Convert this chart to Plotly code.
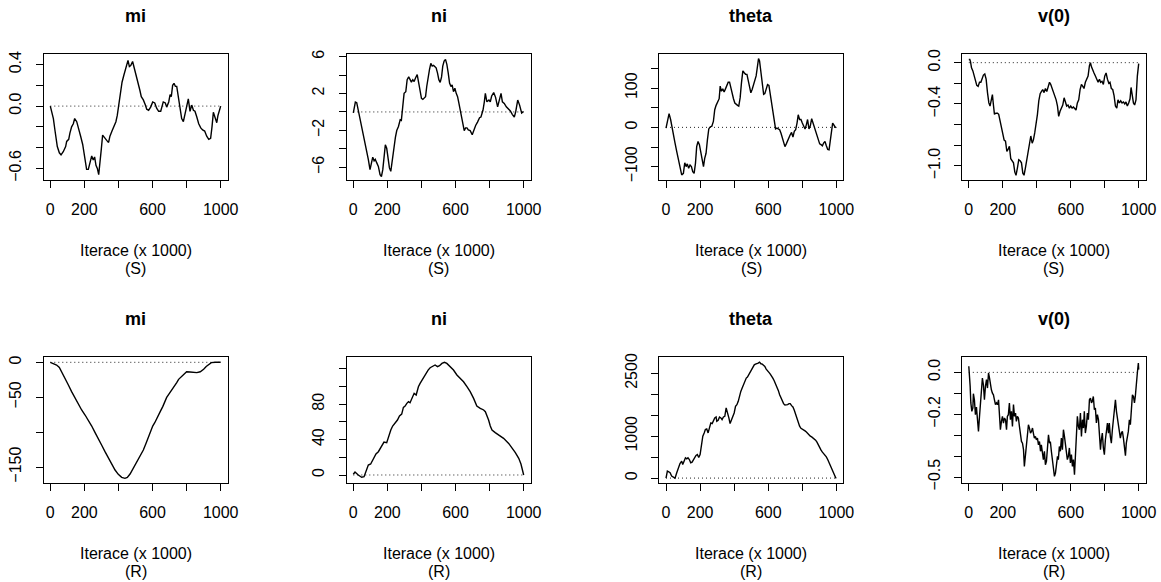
import plotly.graph_objects as go

# ---------------- data ----------------
titles = ["mi", "ni", "theta", "v(0)", "mi", "ni", "theta", "v(0)"]
xlabel = "Iterace (x 1000)"
row_tags = ["(S)", "(R)"]

x_ticks = [0, 200, 400, 600, 800, 1000]
x_ticktext = ["0", "200", "", "600", "", "1000"]
ref_x = [0, 1000]
ref_y = [0, 0]

s_mi_x = [0,18,27,41,53,63,76,90,96,108,115,125,135,143,155,166,178,190,198,205,213,223,233,243,252,260,268,276,284,292,299,307,319,331,342,350,362,374,385,393,401,413,421,432,440,448,456,464,472,483,491,503,511,518,526,534,546,558,566,577,589,601,613,624,636,648,656,663,675,683,695,703,710,718,726,734,742,751,761,771,781,791,800,810,820,830,840,849,859,871,883,894,906,918,930,941,949,957,967,977,984,992,1000]
s_mi_y = [0,-0.12,-0.23,-0.39,-0.45,-0.47,-0.44,-0.39,-0.34,-0.32,-0.26,-0.20,-0.17,-0.12,-0.15,-0.21,-0.29,-0.37,-0.47,-0.55,-0.61,-0.61,-0.55,-0.48,-0.52,-0.49,-0.57,-0.60,-0.66,-0.55,-0.42,-0.28,-0.31,-0.33,-0.35,-0.29,-0.24,-0.20,-0.15,-0.09,0.01,0.15,0.23,0.30,0.34,0.39,0.44,0.38,0.39,0.43,0.38,0.31,0.25,0.22,0.15,0.09,0.06,0.01,-0.03,-0.04,-0.01,0.04,0.03,-0.02,-0.05,-0.05,0.01,0.04,0.03,-0.01,0.04,0.11,0.09,0.20,0.22,0.19,0.19,0.09,-0.04,-0.12,-0.15,-0.07,-0.01,0.07,-0.05,0.01,-0.04,-0.05,-0.10,-0.17,-0.21,-0.23,-0.24,-0.29,-0.32,-0.31,-0.20,-0.06,-0.11,-0.16,-0.09,-0.03,0.00]

s_ni_x = [0,6,12,20,25,33,39,49,59,69,78,88,98,106,114,122,129,137,147,157,165,173,180,188,196,204,212,220,225,231,239,247,255,265,275,282,290,298,308,316,325,333,341,349,357,365,375,384,392,400,408,416,424,431,439,447,455,463,471,478,486,494,502,510,518,525,533,541,549,557,565,573,580,588,596,604,612,620,627,635,643,651,659,667,675,686,698,706,718,729,741,749,761,769,775,784,796,804,812,824,835,847,859,867,875,886,898,910,922,933,945,953,965,976,988,996,1000]
s_ni_y = [-0.1,0.37,1.07,1.0,0.55,0,-0.37,-1.29,-2.2,-3.1,-4.05,-5.15,-6.26,-5.5,-4.9,-5.3,-5.15,-5.5,-5.9,-6.8,-7.0,-6.26,-4.6,-3.57,-3.94,-4.97,-6.07,-6.44,-5.7,-5.04,-4.23,-2.76,-2.02,-1.58,-0.85,-0.92,0.55,2.02,2.2,3.5,3.8,3.57,3.24,3.5,3.3,3.68,4.05,3.13,2.2,1.47,1.36,1.47,1.66,2.76,3.86,4.6,5.26,4.97,5.04,4.9,4.78,4.23,3.5,3.2,3.8,4.97,5.52,5.7,5.15,4.23,3.13,2.76,2.94,2.2,2.58,2.02,1.66,0.92,0.18,-0.74,-1.47,-2.02,-1.73,-1.73,-1.95,-2.02,-2.47,-1.95,-1.47,-1.1,-0.63,-0.55,0.18,1.1,2.02,1.1,1.29,1.1,1.73,2.1,1.58,0.55,1.58,2.02,1.1,0.92,0.55,0.37,0.11,-0.26,-0.55,0,1.29,0.74,-0.11,0,0.04]

s_theta_x = [0,8,18,27,35,43,53,63,73,82,92,102,110,118,125,133,141,149,157,165,173,180,188,196,204,212,220,227,235,243,251,259,269,278,286,294,304,312,318,325,333,341,349,357,365,373,380,388,396,404,412,420,427,435,443,451,459,467,475,482,490,498,506,514,522,529,537,543,549,557,565,573,580,588,596,604,612,620,627,635,643,651,659,667,675,682,690,698,706,714,722,729,737,745,753,761,769,776,784,792,800,808,816,824,831,839,847,855,863,871,878,886,894,902,910,918,925,933,941,949,957,965,973,978,984,992,1000]
s_theta_y = [-2,15,35,20,4,-15,-40,-62,-83,-104,-121,-117,-90,-100,-93,-104,-96,-100,-113,-117,-91,-49,-36,-44,-66,-87,-100,-79,-66,-32,-4,1,3,15,45,56,67,73,105,92,98,90,98,105,115,115,101,84,73,62,58,56,54,75,114,144,139,135,135,118,105,88,97,109,118,131,156,175,169,139,105,84,86,98,109,107,84,54,37,15,-4,-2,-4,-6,-15,-27,-40,-49,-42,-32,-27,-19,-13,-25,-10,-6,11,32,20,20,11,3,-4,7,20,-4,4,22,11,1,-6,-19,-27,-42,-44,-47,-40,-36,-47,-56,-57,-32,1,11,7,1,-1]

s_v0_x = [0,6,10,16,24,31,39,47,55,63,71,78,86,94,102,110,118,125,133,139,145,151,159,169,176,184,192,200,208,216,224,231,239,247,255,263,271,278,286,294,302,310,318,325,333,341,349,357,365,373,380,388,396,404,412,420,427,435,443,451,459,467,475,482,490,498,506,514,522,529,537,545,553,561,569,576,584,592,600,608,616,624,631,639,647,655,663,671,678,686,694,702,710,716,722,729,737,745,753,761,769,776,784,792,800,808,816,824,831,839,847,855,863,871,878,886,894,902,910,918,925,933,941,949,955,961,969,976,984,992,996,1000]
s_v0_y = [0.03,0.03,0.01,-0.05,-0.08,-0.13,-0.16,-0.22,-0.23,-0.19,-0.19,-0.16,-0.12,-0.11,-0.16,-0.29,-0.39,-0.42,-0.34,-0.31,-0.41,-0.50,-0.49,-0.49,-0.50,-0.57,-0.63,-0.71,-0.75,-0.76,-0.86,-0.84,-0.81,-0.93,-0.95,-0.97,-1.06,-1.09,-1.02,-0.94,-0.95,-0.97,-1.07,-1.09,-1.02,-0.94,-0.84,-0.75,-0.71,-0.78,-0.75,-0.68,-0.60,-0.50,-0.37,-0.30,-0.28,-0.26,-0.29,-0.25,-0.28,-0.23,-0.19,-0.21,-0.25,-0.29,-0.31,-0.36,-0.42,-0.52,-0.47,-0.44,-0.41,-0.34,-0.39,-0.42,-0.41,-0.44,-0.42,-0.44,-0.43,-0.45,-0.46,-0.39,-0.36,-0.26,-0.21,-0.23,-0.25,-0.19,-0.16,-0.13,-0.03,0.0,-0.04,-0.08,-0.10,-0.13,-0.16,-0.19,-0.16,-0.19,-0.18,-0.21,-0.13,-0.10,-0.16,-0.20,-0.19,-0.25,-0.26,-0.32,-0.42,-0.44,-0.36,-0.39,-0.37,-0.39,-0.38,-0.40,-0.38,-0.42,-0.39,-0.35,-0.24,-0.32,-0.39,-0.41,-0.36,-0.13,-0.05,-0.01]

r_mi_x = [0,18,37,53,67,86,106,125,145,164,184,204,223,243,262,282,301,321,341,360,380,399,419,438,452,468,483,499,515,530,546,562,577,589,601,613,624,636,648,660,671,683,695,706,718,730,742,753,765,777,789,800,820,840,860,880,900,915,930,945,970,1000]
r_mi_y = [0,-1.4,-3.8,-7.2,-13.4,-22.9,-32.5,-42,-51.6,-60.2,-68.3,-75.5,-82.7,-91.3,-100.3,-108.9,-118.5,-128,-137.6,-146.2,-154.3,-160.5,-164.8,-166.3,-164.8,-160.1,-153.4,-147.2,-140,-132.8,-125.7,-116.1,-106.5,-97,-91.3,-86.5,-81.7,-75.5,-69.3,-63.5,-56.4,-50.2,-45.9,-42,-38.7,-33.9,-29.1,-24.4,-21.5,-18.2,-15.8,-13.4,-13.8,-14.3,-14.8,-13.5,-10,-6,-2.5,-0.5,0,0]

r_ni_x = [0,10,29,49,63,75,88,102,118,133,147,157,173,180,196,208,220,231,245,259,271,284,294,304,314,324,333,345,357,369,382,392,404,416,427,439,451,467,480,494,506,520,535,549,569,588,608,627,647,667,686,706,716,725,745,765,775,784,794,804,814,833,853,882,912,931,951,971,984,1000]
r_ni_y = [0.8,3.4,0,-2.6,-1.9,5.6,11.3,12.4,17.7,23.7,26.3,30.1,35.7,37.2,36.5,45.1,50.8,55.3,58.3,62.1,66.6,68.8,76.4,77.9,80.9,82.8,81.6,87.7,92.2,90.3,99.7,103.5,107.2,111,115.5,118.5,121.1,123,124.2,122.3,123.4,126,127.2,126,122.3,118.5,112.9,109.1,105.3,99.7,94.1,86.5,80.9,77.9,75.2,73.4,71.5,67.7,62.1,55.3,50.8,47.8,45.1,41.4,35.7,30.9,25.2,18.8,12.4,0]

r_theta_x = [0,8,16,24,33,43,53,63,73,82,92,98,106,114,122,129,137,145,153,161,169,176,184,192,200,208,216,224,231,239,247,255,263,271,278,286,294,298,306,314,322,329,337,345,353,361,369,376,384,392,400,408,416,424,431,439,447,455,463,471,478,486,494,502,510,518,525,533,541,549,557,565,573,580,588,596,604,612,620,627,635,643,651,659,667,675,682,690,698,706,714,722,729,737,745,753,761,769,776,784,792,800,808,816,824,831,839,847,855,863,871,878,886,894,902,910,918,925,933,941,949,957,965,973,980,988,996,1000]
r_theta_y = [0,167,151,127,48,16,0,127,246,349,405,325,405,484,460,484,444,365,381,444,508,540,563,492,563,746,1000,1079,1159,1175,1079,1198,1317,1302,1357,1437,1460,1357,1381,1460,1437,1397,1460,1476,1675,1571,1437,1302,1397,1437,1556,1714,1754,1833,1968,2071,2151,2230,2333,2389,2413,2468,2548,2603,2667,2706,2722,2730,2746,2770,2730,2722,2698,2667,2603,2548,2524,2484,2444,2389,2325,2254,2175,2095,1992,1913,1833,1778,1746,1746,1754,1778,1778,1730,1698,1619,1516,1413,1317,1238,1190,1175,1159,1127,1103,1063,1040,1000,984,960,937,905,857,778,722,667,619,587,556,508,444,365,286,206,127,63,8,0]

r_v0_x = [0,4,8,12,18,24,27,33,39,45,51,57,63,69,75,80,86,92,98,104,110,116,122,127,133,139,145,151,157,163,169,175,180,186,192,198,204,210,216,222,227,233,239,245,251,257,263,269,275,280,286,292,298,304,310,316,322,327,333,339,345,351,357,363,369,375,380,386,392,398,404,410,416,422,427,433,439,445,451,457,463,469,475,480,486,492,498,504,510,516,522,527,533,539,545,551,557,563,569,575,580,586,592,598,604,610,616,622,627,633,639,645,651,657,663,669,675,680,686,692,698,704,710,716,722,727,733,739,745,751,757,763,769,775,780,786,792,798,804,810,816,822,827,833,839,845,851,857,863,869,875,880,886,892,898,904,910,916,922,927,933,939,945,951,957,963,969,975,980,986,992,998,1000]
r_v0_y = [0.029,-0.003,-0.067,-0.146,-0.186,-0.170,-0.102,-0.131,-0.202,-0.166,-0.218,-0.282,-0.210,-0.131,-0.067,-0.027,-0.059,-0.131,-0.067,-0.035,-0.075,-0.003,-0.027,-0.067,-0.083,-0.099,-0.107,-0.131,-0.154,-0.146,-0.154,-0.131,-0.178,-0.274,-0.234,-0.210,-0.242,-0.218,-0.226,-0.274,-0.210,-0.202,-0.146,-0.226,-0.186,-0.258,-0.154,-0.210,-0.194,-0.234,-0.210,-0.218,-0.258,-0.290,-0.330,-0.338,-0.369,-0.449,-0.401,-0.338,-0.306,-0.250,-0.266,-0.290,-0.282,-0.266,-0.290,-0.314,-0.306,-0.322,-0.314,-0.346,-0.330,-0.377,-0.346,-0.385,-0.417,-0.377,-0.441,-0.425,-0.377,-0.298,-0.338,-0.330,-0.377,-0.425,-0.449,-0.497,-0.481,-0.449,-0.401,-0.417,-0.354,-0.377,-0.314,-0.369,-0.274,-0.306,-0.346,-0.361,-0.417,-0.401,-0.361,-0.433,-0.393,-0.449,-0.417,-0.489,-0.417,-0.298,-0.210,-0.258,-0.274,-0.194,-0.306,-0.226,-0.266,-0.186,-0.290,-0.258,-0.194,-0.226,-0.131,-0.123,-0.146,-0.138,-0.115,-0.178,-0.170,-0.242,-0.202,-0.226,-0.298,-0.369,-0.322,-0.290,-0.361,-0.393,-0.322,-0.274,-0.242,-0.290,-0.242,-0.306,-0.338,-0.274,-0.218,-0.178,-0.131,-0.186,-0.226,-0.242,-0.290,-0.314,-0.290,-0.282,-0.314,-0.369,-0.398,-0.338,-0.306,-0.282,-0.226,-0.250,-0.178,-0.107,-0.115,-0.146,-0.115,-0.027,-0.003,0.045,0.013]

y_tickvals = [
    [-0.6, -0.4, -0.2, 0.0, 0.2, 0.4],
    [-6, -4, -2, 0, 2, 4, 6],
    [-100, -50, 0, 50, 100, 150],
    [-1.0, -0.8, -0.6, -0.4, -0.2, 0.0],
    [-150, -100, -50, 0],
    [0, 20, 40, 60, 80, 100, 120],
    [0, 500, 1000, 1500, 2000, 2500],
    [-0.5, -0.4, -0.3, -0.2, -0.1, 0.0],
]
y_ticktext = [
    ["\u22120.6", "", "", "0.0", "", "0.4"],
    ["\u22126", "", "\u22122", "", "2", "", "6"],
    ["\u2212100", "", "0", "", "100", ""],
    ["\u22121.0", "", "", "\u22120.4", "", "0.0"],
    ["\u2212150", "", "\u221250", "0"],
    ["0", "", "40", "", "80", "", ""],
    ["0", "", "1000", "", "", "2500"],
    ["\u22120.5", "", "", "\u22120.2", "", "0.0"],
]

series_x = [s_mi_x, s_ni_x, s_theta_x, s_v0_x, r_mi_x, r_ni_x, r_theta_x, r_v0_x]
series_y = [s_mi_y, s_ni_y, s_theta_y, s_v0_y, r_mi_y, r_ni_y, r_theta_y, r_v0_y]

# ---------------- layout (pixels) ----------------
W, H = 1161, 582
FONT = "Liberation Sans, Arial, Helvetica, sans-serif"
col_box = [(43.5, 227.5), (346.5, 530.5), (659.2, 843.2), (962.0, 1145.5)]
row_box = [(54.3, 180.0), (357.3, 482.7)]
y_ranges = [
    [-0.712, 0.499], [-7.38, 6.25], [-134, 186], [-1.136, 0.081],
    [-172.5, 7.2], [-8.7, 132.9], [-110, 2885], [-0.527, 0.072],
]
x_range = [-40, 1040]

fig = go.Figure()
annotations = []
layout_axes = {}

for i in range(8):
    r, c = divmod(i, 4)
    x0, x1 = col_box[c]
    y0, y1 = row_box[r]
    sfx = "" if i == 0 else str(i + 1)
    xa, ya = "x" + sfx, "y" + sfx
    assert len(series_x[i]) == len(series_y[i]), i

    fig.add_trace(go.Scatter(x=ref_x, y=ref_y, mode="lines", xaxis=xa, yaxis=ya,
                             line=dict(color="#222222", width=1, dash="1px,3px"),
                             hoverinfo="skip", showlegend=False))
    fig.add_trace(go.Scatter(x=series_x[i], y=series_y[i], mode="lines", xaxis=xa, yaxis=ya,
                             line=dict(color="black", width=1.4), showlegend=False))

    common = dict(showgrid=False, zeroline=False, showline=True, mirror=True,
                  linecolor="black", linewidth=1, ticks="outside", ticklen=7,
                  tickwidth=1, tickcolor="black", automargin=False,
                  tickfont=dict(family=FONT, size=16, color="black"))
    layout_axes["xaxis" + sfx] = dict(
        domain=[x0 / W, x1 / W], anchor=ya, range=x_range,
        tickmode="array", tickvals=x_ticks, ticktext=x_ticktext,
        ticklabelstandoff=8, **common)
    layout_axes["yaxis" + sfx] = dict(
        domain=[1 - y1 / H, 1 - y0 / H], anchor=xa, range=y_ranges[i],
        tickmode="array", tickvals=y_tickvals[i], ticktext=y_ticktext[i],
        tickangle=-90, ticklabelstandoff=8, **common)

    xc = (x0 + x1) / 2 / W
    annotations.append(dict(text="<b>" + titles[i] + "</b>", x=xc, y=1 - (y0 - 38.5) / H,
                            xref="paper", yref="paper", xanchor="center", yanchor="middle",
                            showarrow=False, font=dict(family=FONT, size=18, color="black")))
    annotations.append(dict(text=xlabel, x=xc, y=1 - (y1 + 70.3) / H,
                            xref="paper", yref="paper", xanchor="center", yanchor="middle",
                            showarrow=False, font=dict(family=FONT, size=16, color="black")))
    annotations.append(dict(text=row_tags[r], x=xc, y=1 - (y1 + 88.5) / H,
                            xref="paper", yref="paper", xanchor="center", yanchor="middle",
                            showarrow=False, font=dict(family=FONT, size=16, color="black")))

fig.update_layout(width=W, height=H, margin=dict(l=0, r=0, t=0, b=0, autoexpand=False),
                  paper_bgcolor="white", plot_bgcolor="white",
                  annotations=annotations, showlegend=False, **layout_axes)

fig.write_html("out.html")
